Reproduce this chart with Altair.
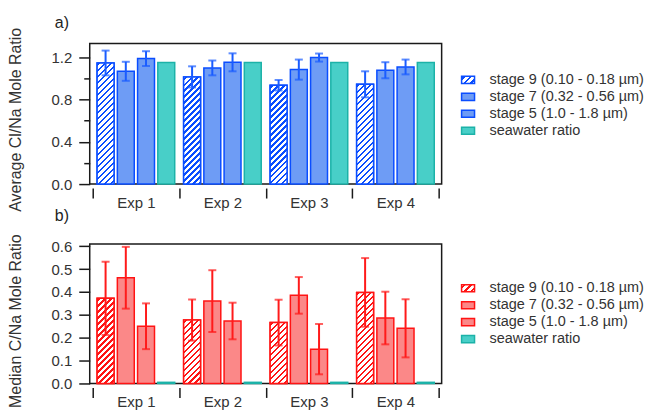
import json
import altair as alt
import pandas as pd

# ---------------- data ----------------
exps = ["Exp 1", "Exp 2", "Exp 3", "Exp 4"]
stages = ["stage 9 (0.10 - 0.18 µm)", "stage 7 (0.32 - 0.56 µm)",
          "stage 5 (1.0 - 1.8 µm)", "seawater ratio"]

cl_stage9 = [1.146, 1.014, 0.935, 0.944]
cl_stage9_err = [0.117, 0.100, 0.050, 0.123]
cl_stage7 = [1.067, 1.099, 1.083, 1.077]
cl_stage7_err = [0.090, 0.070, 0.095, 0.076]
cl_stage5 = [1.187, 1.152, 1.197, 1.108]
cl_stage5_err = [0.070, 0.085, 0.038, 0.070]
cl_seawater = [1.15, 1.15, 1.15, 1.15]

c_stage9 = [0.372, 0.277, 0.266, 0.398]
c_stage9_err = [0.160, 0.090, 0.100, 0.150]
c_stage7 = [0.462, 0.360, 0.385, 0.286]
c_stage7_err = [0.135, 0.135, 0.080, 0.115]
c_stage5 = [0.250, 0.273, 0.150, 0.241]
c_stage5_err = [0.100, 0.080, 0.110, 0.127]
c_seawater = [0.005, 0.005, 0.005, 0.005]

top_ticks = [0.0, 0.2, 0.4, 0.6, 0.8, 1.0, 1.2]
bot_ticks = [0.0, 0.1, 0.2, 0.3, 0.4, 0.5, 0.6]


def make_df(vals, errs, sea):
    rows = []
    for i, e in enumerate(exps):
        for s, v, er in zip(stages[:3], vals, errs):
            rows.append(dict(exp=e, stage=s, value=v[i], lo=v[i] - er[i], hi=v[i] + er[i]))
        rows.append(dict(exp=e, stage=stages[3], value=sea[i], lo=None, hi=None))
    return pd.DataFrame(rows)


df_cl = make_df([cl_stage9, cl_stage7, cl_stage5],
                [cl_stage9_err, cl_stage7_err, cl_stage5_err], cl_seawater)
df_c = make_df([c_stage9, c_stage7, c_stage5],
               [c_stage9_err, c_stage7_err, c_stage5_err], c_seawater)

# ---------------- layout / style ----------------
FONT = "Liberation Sans"
TXT = "#333333"
W = 353
H_TOP, H_BOT = 141, 140
YMAX_TOP, YMAX_BOT = 1.33, 0.61
X_PAD_OUTER = 0.034
OFF_PAD_INNER, OFF_PAD_OUTER = 0.163, 0.22

group_step = W / (len(exps) + 2 * X_PAD_OUTER)
bar_step = group_step / (len(stages) - OFF_PAD_INNER + 2 * OFF_PAD_OUTER)
bar_w = bar_step * (1 - OFF_PAD_INNER)


def hatch_gradient(w, h, color, period=6.0, thick=2.4, start=1.5):
    total = w + h
    stops = [{"offset": 0, "color": "white"}]
    c = start
    while c < total:
        a = round(c / total, 5)
        b = round(min((c + thick) / total, 1.0), 5)
        stops += [{"offset": a, "color": "white"}, {"offset": a, "color": color},
                  {"offset": b, "color": color}, {"offset": b, "color": "white"}]
        c += period
    stops.append({"offset": 1, "color": "white"})
    d = w * w + h * h
    return {"gradient": "linear", "x1": 0, "y1": 0,
            "x2": round(w * total / d, 5), "y2": round(h * total / d, 5),
            "stops": stops}


SYMBOL = "M-1,-0.55L1,-0.55L1,0.55L-1,0.55Z"


def make_panel(df, ymax, H, yaxis, fills, strokes, err_color, title_text,
               title_offset, legend_y):
    x_axis = alt.Axis(title=None, tickBand="extent", domain=False, tickSize=10,
                      offset=4, labelPadding=-3, labelAngle=0, tickWidth=1.5,
                      tickColor="#1a1a1a")
    x_enc = alt.X("exp:N", sort=exps,
                  scale=alt.Scale(domain=exps, paddingInner=0, paddingOuter=X_PAD_OUTER),
                  axis=x_axis)
    xo_enc = alt.XOffset("stage:N", sort=stages,
                         scale=alt.Scale(domain=stages, paddingInner=OFF_PAD_INNER,
                                         paddingOuter=OFF_PAD_OUTER))
    y_scale = alt.Scale(domain=[0, ymax], nice=False, zero=True)
    y_enc = alt.Y("value:Q", scale=y_scale, axis=yaxis)

    legend = alt.Legend(
        title=None, orient="none", legendX=372, legendY=legend_y,
        symbolType=SYMBOL, symbolSize=169, symbolStrokeWidth=1.5,
        labelFont=FONT, labelFontSize=14.5, labelColor=TXT, labelOffset=14,
        rowPadding=1, padding=0,
    )
    # legend-sized hatch for the stage 9 entry (bars get their own overlays)
    legend_hatch = hatch_gradient(13, 7.15, strokes[0], period=6.5, thick=2.6, start=2.0)
    fill_range = [{"expr": json.dumps(legend_hatch)}] + fills[1:]

    base = alt.Chart(df)
    bars = base.mark_bar(strokeWidth=1.5).encode(
        x=x_enc, xOffset=xo_enc, y=y_enc,
        fill=alt.Fill("stage:N", sort=stages,
                      scale=alt.Scale(domain=stages, range=fill_range), legend=legend),
        stroke=alt.Stroke("stage:N", sort=stages,
                          scale=alt.Scale(domain=stages, range=strokes), legend=legend),
    )
    layers = [bars]
    for e in exps:
        v = float(df[(df.exp == e) & (df.stage == stages[0])]["value"].iloc[0])
        h = v / ymax * H
        layers.append(
            base.transform_filter((alt.datum.exp == e) & (alt.datum.stage == stages[0]))
            .mark_bar(fill=hatch_gradient(bar_w, h, strokes[0]), stroke=strokes[0],
                      strokeWidth=1.5)
            .encode(x=x_enc, xOffset=xo_enc, y=y_enc)
        )
    err = base.transform_filter("isValid(datum.hi)")
    rule = err.mark_rule(color=err_color, strokeWidth=2).encode(
        x=x_enc, xOffset=xo_enc,
        y=alt.Y("lo:Q", scale=y_scale, axis=yaxis), y2="hi:Q")
    cap_hi = err.mark_tick(color=err_color, size=8, thickness=2).encode(
        x=x_enc, xOffset=xo_enc, y=alt.Y("hi:Q", scale=y_scale, axis=yaxis))
    cap_lo = err.mark_tick(color=err_color, size=8, thickness=2).encode(
        x=x_enc, xOffset=xo_enc, y=alt.Y("lo:Q", scale=y_scale, axis=yaxis))
    layers += [rule, cap_hi, cap_lo]

    return alt.layer(*layers).properties(
        width=W, height=H,
        title=alt.TitleParams(title_text, anchor="start", frame="group", dx=-35,
                              offset=title_offset),
    )


yaxis_top = alt.Axis(
    title="Average Cl/Na Mole Ratio", values=top_ticks,
    labelExpr="round(datum.value*10) % 4 == 0 ? format(datum.value, '.1f') : ''",
    tickSize={"condition": {"test": "round(datum.value*10) % 4 == 0", "value": 11}, "value": 6},
    labelPadding=7, domain=False, grid=False, titlePadding=28, titleY=76,
    labelOverlap=False, tickWidth=1.5, tickColor="#1a1a1a",
)
yaxis_bot = alt.Axis(
    title="Median C/Na Mole Ratio", values=bot_ticks, format=".1f",
    tickSize=11, labelPadding=7, domain=False, grid=False, titlePadding=28,
    titleY=77, labelOverlap=False, tickWidth=1.5, tickColor="#1a1a1a",
)

BLUE_FILL, BLUE_LINE = "#6e9cf5", "#0a4dff"
TEAL_FILL, TEAL_LINE = "#48cfc8", "#1cb2a8"
RED_FILL, RED_LINE = "#fb8888", "#ff1414"

top = make_panel(df_cl, YMAX_TOP, H_TOP, yaxis_top,
                 ["white", BLUE_FILL, BLUE_FILL, TEAL_FILL],
                 [BLUE_LINE, BLUE_LINE, BLUE_LINE, TEAL_LINE],
                 "#1a5cff", "a)", -4, 29)
bottom = make_panel(df_c, YMAX_BOT, H_BOT, yaxis_bot,
                    ["white", RED_FILL, RED_FILL, TEAL_FILL],
                    [RED_LINE, RED_LINE, RED_LINE, TEAL_LINE],
                    "#ff1a1a", "b)", 10, 37)

chart = (
    alt.vconcat(top, bottom, spacing=60, bounds="flush")
    .resolve_scale(fill="independent", stroke="independent", xOffset="independent")
    .resolve_legend(fill="independent", stroke="independent")
    .properties(padding={"left": 6, "top": 13, "right": 5, "bottom": 5},
                background="white")
    .configure_view(stroke="#1a1a1a", strokeWidth=1.5)
    .configure_axis(labelFont=FONT, labelFontSize=15, labelColor=TXT,
                    titleFont=FONT, titleFontSize=16, titleFontWeight="normal",
                    titleColor=TXT)
    .configure_title(font=FONT, fontSize=16, fontWeight="normal", color="#222222")
)

chart.save("out.html", embed_options={"renderer": "svg", "actions": False})
